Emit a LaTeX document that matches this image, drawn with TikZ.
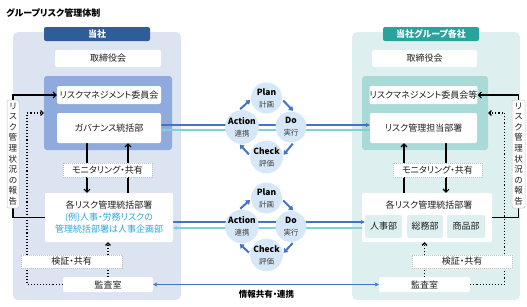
\documentclass[tikz,border=0pt]{standalone}
\usepackage{fontspec}
\setmainfont{Noto Sans CJK JP}[RawFeature=+palt]
\usetikzlibrary{arrows.meta,positioning}

\definecolor{panelblue}{HTML}{DCE4F2}
\definecolor{headblue}{HTML}{2F5D98}
\definecolor{innerblue}{HTML}{8FAADC}
\definecolor{panelteal}{HTML}{DDF0EF}
\definecolor{headteal}{HTML}{2AA39F}
\definecolor{innerteal}{HTML}{A9DAD8}
\definecolor{lineblue}{HTML}{4472C4}
\definecolor{linecyan}{HTML}{7FD0D8}
\definecolor{textcyan}{HTML}{2EA7E0}
\definecolor{cyclefill}{HTML}{D6E7F7}
\definecolor{dotgray}{HTML}{C4C4C4}
\definecolor{inkgray}{HTML}{1E1E1E}

\newcommand{\boxfont}{\fontsize{9}{10}\selectfont}
\newcommand{\cyctext}[2]{{\fontsize{8.5}{9.5}\selectfont\bfseries #1}\\{\fontsize{7.5}{8.5}\selectfont\color{darkgray}#2}}

\pgfdeclarelayer{bg}
\pgfdeclarelayer{lines}
\pgfsetlayers{bg,lines,main}

\begin{document}
\begin{tikzpicture}[x=1pt,y=-1pt]
\tikzstyle{panel} = [rounded corners=5pt, inner sep=0pt]
\tikzstyle{head} = [rounded corners=2pt, text=white, inner sep=0pt, font=\bfseries\fontsize{9}{10}\selectfont]
\tikzstyle{wbox} = [fill=white, rounded corners=2pt, inner sep=0pt, text=inkgray, font=\boxfont]
\tikzstyle{dotbox} = [fill=white, draw=dotgray, dash pattern=on 1pt off 1pt, line width=0.8pt, inner sep=0pt, text=inkgray, font=\boxfont]
\tikzstyle{subbox} = [fill=panelteal, rounded corners=2pt, inner sep=0pt, text=inkgray, font=\boxfont]
\tikzstyle{vlabel} = [fill=white, draw=dotgray, line width=0.5pt, rounded corners=2pt, inner sep=0pt, align=center, text=inkgray, font=\fontsize{8.5}{10.6}\selectfont]
\tikzstyle{pdca} = [circle, fill=cyclefill, minimum size=31pt, inner sep=0pt, align=center]
\tikzstyle{barb} = [line width=1.1pt, -{Straight Barb[length=3pt,width=6pt]}]
\tikzstyle{dotarrow} = [line width=1.1pt, dotted, -{Straight Barb[length=2.5pt,width=5pt]}]
\tikzstyle{blueline} = [lineblue, line width=1.3pt, -{Stealth[length=4pt,width=4pt]}]
\tikzstyle{cyanline} = [linecyan, line width=1.3pt, -{Stealth[length=4pt,width=4pt]}]
\tikzstyle{cycarrow} = [lineblue, line width=2pt, -{Triangle[length=4pt,width=5.5pt]}, shorten <=1.5pt, shorten >=1pt]

\useasboundingbox (0,0) rectangle (527,306);

\node[anchor=west, inner sep=0pt, font=\bfseries\fontsize{9}{10}\selectfont] (title) at (6,13) {グループリスク管理体制};

% panels
\begin{pgfonlayer}{bg}
\node[panel, fill=panelblue, minimum width=168pt, minimum height=268pt] (panelL) at (97,166) {};
\node[panel, fill=innerblue, rounded corners=3pt, minimum width=128pt, minimum height=74pt] (innerL) at (108,113) {};
\node[panel, fill=panelteal, minimum width=168pt, minimum height=268pt] (panelR) at (436,166) {};
\node[panel, fill=innerteal, rounded corners=3pt, minimum width=126pt, minimum height=74pt] (innerR) at (425,113) {};
\node[wbox, minimum width=130pt, minimum height=49pt] (riskR) at (427,217.5) {};
\end{pgfonlayer}

% left: 当社
\node[head, fill=headblue, minimum width=106pt, minimum height=14pt] (headL) at (97,34) {当社};
\node[wbox, minimum width=106pt, minimum height=17pt] (boardL) at (108,58.5) {取締役会};
\node[wbox, minimum width=104pt, minimum height=18pt] (rmcL) at (109,95) {リスクマネジメント委員会};
\node[wbox, minimum width=104pt, minimum height=30pt] (govL) at (109,128) {ガバナンス統括部};
\node[dotbox, minimum width=89pt, minimum height=14pt] (monL) at (107.5,170) {モニタリング・共有};
\node[wbox, minimum width=128pt, minimum height=49pt, align=center, font=\fontsize{9}{12}\selectfont] (riskL) at (109,217.5)
  {各リスク管理統括部署\\\textcolor{textcyan}{(例)人事・労務リスクの}\\\textcolor{textcyan}{管理統括部署は人事企画部}};
\node[dotbox, minimum width=101pt, minimum height=13pt] (verL) at (71.5,261.5) {検証・共有};
\node[wbox, minimum width=90pt, minimum height=15pt] (auditL) at (108,284.5) {監査室};
\node[vlabel, minimum width=12pt, minimum height=108pt] (repL) at (13,154) {リ\\ス\\ク\\管\\理\\状\\況\\の\\報\\告};

% right: 当社グループ各社
\node[head, fill=headteal, minimum width=96pt, minimum height=14pt] (headR) at (431,34) {当社グループ各社};
\node[wbox, minimum width=105pt, minimum height=17pt] (boardR) at (424.5,58.5) {取締役会};
\node[wbox, minimum width=107pt, minimum height=18pt] (rmcR) at (423.5,95) {リスクマネジメント委員会等};
\node[wbox, minimum width=107pt, minimum height=30pt] (mgrR) at (423.5,128) {リスク管理担当部署};
\node[dotbox, minimum width=89pt, minimum height=14pt] (monR) at (437.5,170) {モニタリング・共有};
\node[inner sep=0pt, text=inkgray, font=\boxfont] (riskRt) at (429,205) {各リスク管理統括部署};
\node[subbox, minimum width=37pt, minimum height=23pt] (hrR) at (383.5,226.5) {人事部};
\node[subbox, minimum width=36pt, minimum height=23pt] (gaR) at (425,226.5) {総務部};
\node[subbox, minimum width=38pt, minimum height=23pt] (prR) at (466,226.5) {商品部};
\node[dotbox, minimum width=100pt, minimum height=13pt] (verR) at (462,261.5) {検証・共有};
\node[wbox, minimum width=91pt, minimum height=15pt] (auditR) at (424.5,284.5) {監査室};
\node[vlabel, minimum width=13pt, minimum height=108pt] (repR) at (518.5,154) {リ\\ス\\ク\\管\\理\\状\\況\\の\\報\\告};

% PDCA
\node[pdca] (planU) at (266.5,98) {\cyctext{Plan}{計画}};
\node[pdca] (doU) at (291,127) {\cyctext{Do}{実行}};
\node[pdca] (checkU) at (266.5,157) {\cyctext{Check}{評価}};
\node[pdca] (actU) at (242,127) {\cyctext{Action}{連携}};
\node[pdca] (planD) at (266.5,198) {\cyctext{Plan}{計画}};
\node[pdca] (doD) at (291,226.5) {\cyctext{Do}{実行}};
\node[pdca] (checkD) at (266.5,255) {\cyctext{Check}{評価}};
\node[pdca] (actD) at (242,226.5) {\cyctext{Action}{連携}};

\node[inner sep=0pt, font=\bfseries\fontsize{8.5}{10}\selectfont] (infoT) at (266.5,294) {情報共有・連携};

\begin{pgfonlayer}{lines}
% monitoring
\draw[barb] ([xshift=-22pt]govL.south) -- ([xshift=-22pt]govL.south |- riskL.north);
\draw[barb] ([xshift=19pt]govL.south |- riskL.north) -- ([xshift=19pt]govL.south);
\draw[barb] ([xshift=-19.5pt]mgrR.south |- riskR.north) -- ([xshift=-19.5pt]mgrR.south);
\draw[barb] ([xshift=22.5pt]mgrR.south) -- ([xshift=22.5pt]mgrR.south |- riskR.north);
% reports
\draw[barb] (riskL.west) -| (repL.center) |- (rmcL.west);
\draw[barb] (riskR.east) -| (repR.center) |- (rmcR.east);
\draw[dotarrow] (auditL.west) -| ([xshift=14pt]repL.south) |- (innerL.west);
\draw[dotarrow] (auditR.east) -| ([xshift=-14pt]repR.south) |- (innerR.east);
\draw[dotarrow] (auditL.north) -- (auditL.north |- riskL.south);
\draw[dotarrow] (auditR.north) -- (auditR.north |- riskR.south);
% between companies
\draw[blueline] ([yshift=3pt]govL.east) -- ([yshift=3pt]govL.east -| mgrR.west);
\draw[cyanline] ([yshift=-2pt]mgrR.west) -- ([yshift=-2pt]mgrR.west -| govL.east);
\draw[blueline] ([yshift=-4.5pt]riskL.east) -- ([yshift=-4.5pt]riskL.east -| hrR.west);
\draw[cyanline] ([yshift=-10.5pt]riskR.west) -- ([yshift=-10.5pt]riskR.west -| riskL.east);
\draw[blueline, {Stealth[length=4pt,width=4pt]}-{Stealth[length=4pt,width=4pt]}] (auditL.east) -- (auditR.west);
\end{pgfonlayer}

% PDCA cycle
\draw[cycarrow] (planU.-5) -- (doU.80);
\draw[cycarrow] (doU.-80) -- (checkU.5);
\draw[cycarrow] (checkU.175) -- (actU.-100);
\draw[cycarrow] (actU.100) -- (planU.185);
\draw[cycarrow] (planD.-5) -- (doD.80);
\draw[cycarrow] (doD.-80) -- (checkD.5);
\draw[cycarrow] (checkD.175) -- (actD.-100);
\draw[cycarrow] (actD.100) -- (planD.185);

\end{tikzpicture}
\end{document}
